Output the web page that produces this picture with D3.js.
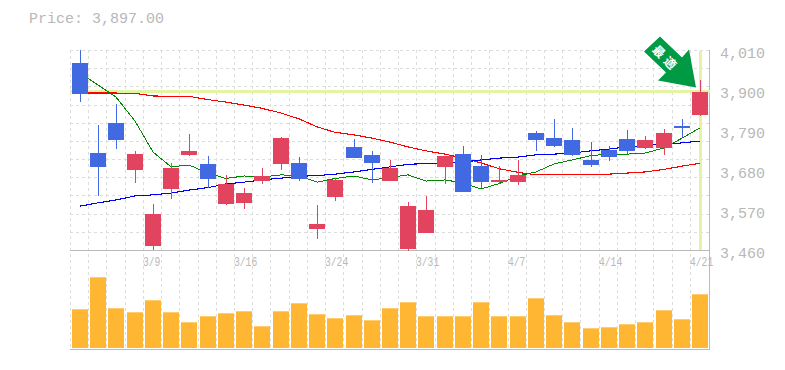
<!DOCTYPE html>
<html>
<head>
<meta charset="utf-8">
<script src="https://cdnjs.cloudflare.com/ajax/libs/d3/7.8.5/d3.min.js"></script>
<style>
  html, body { margin: 0; padding: 0; background: #fff; }
  svg { display: block; }
  text { font-family: "Liberation Mono", monospace; fill: #b8b8b8; }
</style>
</head>
<body>
<svg id="chart" width="785" height="370"></svg>
<script>
const title = 'Price: 3,897.00';
const days = d3.range(35);
const opens = [3976,3728,3811,3681,3472,3629,3723,3698,3588,3591,3651,3698,3701,3519,3607,3745,3723,3651,3464,3508,3690,3725,3692,3648,3648,3783,3769,3764,3709,3736,3767,3742,3742,3802,3833];
const highs = [4011,3805,3863,3734,3588,3701,3780,3720,3668,3632,3687,3772,3717,3585,3659,3767,3734,3709,3593,3610,3720,3747,3723,3692,3709,3789,3822,3797,3758,3747,3791,3775,3794,3822,3929];
const lows = [3869,3610,3739,3646,3461,3602,3720,3632,3585,3574,3643,3681,3651,3492,3596,3714,3646,3651,3459,3508,3643,3621,3632,3643,3640,3734,3745,3720,3690,3706,3725,3739,3723,3772,3830];
const closes = [3891,3690,3764,3725,3560,3687,3734,3657,3643,3618,3665,3769,3657,3533,3654,3714,3701,3687,3582,3571,3720,3621,3648,3654,3668,3764,3747,3723,3695,3717,3734,3764,3783,3797,3897];
const maShort = [3948,3915,3882,3816,3731,3690,3695,3673,3658,3665,3662,3668,3666,3648,3658,3665,3654,3661,3668,3651,3654,3646,3629,3644,3665,3676,3698,3709,3721,3725,3725,3728,3742,3769,3797];
const maMid = [3893,3893,3893,3892,3885,3884,3884,3875,3868,3860,3851,3838,3822,3800,3785,3778,3769,3758,3745,3734,3725,3714,3701,3685,3675,3668,3668,3668,3668,3670,3673,3676,3683,3692,3700];
const maLong = [3582,3591,3599,3610,3613,3618,3626,3633,3643,3648,3654,3659,3664,3666,3670,3676,3683,3690,3697,3699,3701,3703,3709,3714,3717,3723,3725,3728,3734,3739,3745,3749,3752,3756,3761];
const volumes = [387,707,397,357,477,357,257,317,347,367,217,367,447,337,297,327,277,397,457,317,317,317,457,317,317,497,327,257,197,207,237,257,377,287,537];
const priceTicks = [4010,3900,3790,3680,3570,3460];
const dateTicks = [[4,'3/9'],[9,'3/16'],[14,'3/24'],[19,'3/31'],[24,'4/7'],[29,'4/14'],[34,'4/21']];
const lastPrice = 3897;

const x = d3.scaleBand().domain(days).range([70.9, 709.1]).paddingInner(0.12).paddingOuter(0.06);
const y = d3.scaleLinear().domain([3460, 4010]).range([250.5, 50.5]);
const yVol = d3.scaleLinear().domain([0, 1000]).range([348, 248]);
const cx = d => Math.round(x(d) + x.bandwidth() / 2);
const gridX = d => Math.round(x(d) - x.step() * 0.06) - 0.5; // grid sits just left of each candle

const svg = d3.select('#chart');
const grey = '#bbb', gridGrey = '#ddd', red = '#e2445f', blue = '#4169e1', hilite = '#e3f4a4';

svg.append('text').attr('x', 29).attr('y', 23).style('font-size', '15px').text(title);

// grid
svg.append('g').selectAll('line').data(d3.range(3460, 4011, 50)).join('line')
  .attr('x1', 70).attr('x2', 710)
  .attr('y1', d => Math.round(y(d) - 0.5) + 0.5).attr('y2', d => Math.round(y(d) - 0.5) + 0.5)
  .attr('stroke', gridGrey).attr('stroke-dasharray', '3,3');
svg.append('g').selectAll('line').data(days).join('line')
  .attr('x1', gridX).attr('x2', gridX)
  .attr('y1', 50).attr('y2', 350)
  .attr('stroke', gridGrey).attr('stroke-dasharray', '3,3');

// frame
svg.append('path').attr('fill', 'none').attr('stroke', grey)
  .attr('d', 'M70,250.5H710M70,349.5H709.5V50');

// last price highlight
svg.append('line').attr('x1', 70).attr('x2', 710)
  .attr('y1', Math.floor(y(lastPrice)) + 0.5).attr('y2', Math.floor(y(lastPrice)) + 0.5)
  .attr('stroke', hilite).attr('stroke-width', 3);
svg.append('line').attr('x1', cx(34) + 0.5).attr('x2', cx(34) + 0.5)
  .attr('y1', 51).attr('y2', 250)
  .attr('stroke', hilite).attr('stroke-width', 3);

// moving averages
const maLine = d3.line().x((d, i) => cx(i)).y(d => y(d));
[[maMid, '#f00'], [maLong, '#00f'], [maShort, '#080']].forEach(([values, color]) => {
  svg.append('path').attr('d', maLine(values)).attr('fill', 'none')
    .attr('stroke', color).attr('stroke-width', color === '#080' ? 1 : 1.1)
    .attr('shape-rendering', 'crispEdges');
});

// candles
const candles = svg.append('g').selectAll('g').data(days).join('g')
  .attr('fill', d => closes[d] >= opens[d] ? red : blue)
  .attr('stroke', d => closes[d] >= opens[d] ? red : blue);
candles.append('line')
  .attr('x1', d => cx(d) + 0.5).attr('x2', d => cx(d) + 0.5)
  .attr('y1', d => Math.round(y(highs[d]))).attr('y2', d => Math.round(y(lows[d])));
candles.append('rect')
  .attr('x', d => cx(d) - 8).attr('width', 16)
  .attr('y', d => Math.round(y(Math.max(opens[d], closes[d]))))
  .attr('height', d => Math.max(1, Math.round(y(Math.min(opens[d], closes[d]))) - Math.round(y(Math.max(opens[d], closes[d])))))
  .attr('stroke', 'none');

// volume
svg.append('g').selectAll('rect').data(days).join('rect')
  .attr('x', d => cx(d) - 8).attr('width', 16)
  .attr('y', d => yVol(volumes[d]))
  .attr('height', d => yVol(0) - yVol(volumes[d]))
  .attr('fill', '#ffb733');

// axis labels
svg.append('g').selectAll('text').data(priceTicks).join('text')
  .attr('x', 720).attr('y', d => y(d) + 7).style('font-size', '15px')
  .text(d => d3.format(',')(d));
svg.append('g').selectAll('text').data(dateTicks).join('text')
  .attr('x', d => gridX(d[0]) - 0.5).attr('y', 266).style('font-size', '12px')
  .attr('textLength', d => d[1].length * 5.8).attr('lengthAdjust', 'spacingAndGlyphs')
  .text(d => d[1]);

// signal arrow pointing at the last candle
const arrow = svg.append('g').attr('transform', `translate(${cx(34) - 4},${y(lastPrice) - 4})`);
arrow.append('path').attr('fill', '#009944')
  .attr('d', 'M0,0L-38,-7L-30,-15L-52,-36L-36,-51L-14,-30L-7,-38Z');
arrow.append('text').attr('transform', 'translate(-30,-29) rotate(45)')
  .attr('text-anchor', 'middle').attr('dy', 4.5)
  .style('font-family', '"Noto Sans CJK JP"').style('font-weight', 700).style('font-size', '12px')
  .style('letter-spacing', '4px').style('fill', '#fff')
  .text('最適');
</script>
</body>
</html>
